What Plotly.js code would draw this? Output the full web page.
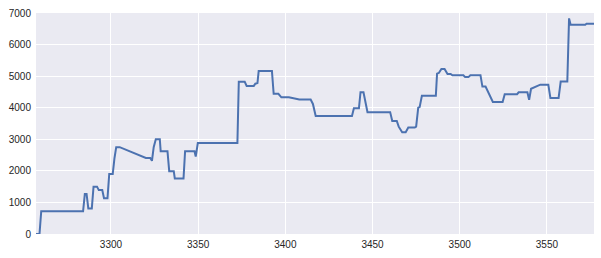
<!DOCTYPE html>
<html>
<head>
<meta charset="utf-8">
<script src="https://cdn.plot.ly/plotly-3.0.1.min.js"></script>
<style>html,body{margin:0;padding:0;background:#fff;}#chart{width:601px;height:258px;}</style>
</head>
<body>
<div id="chart"></div>
<script>
const xValues = [3257,3259,3260,3284,3285,3286,3287,3289,3290,3292,3293,3295,3296,3298,3299,3301,3302,3303,3305,3320,3322.5,3323.5,3324.5,3325.7,3328,3328.5,3332.4,3333.4,3336,3336.6,3341.6,3342.5,3347.9,3348.6,3349.8,3372.5,3373.3,3376.7,3377.8,3381.9,3382.8,3384,3384.7,3392.3,3393.3,3396,3397.7,3402,3408,3414.5,3415.8,3417.4,3438.2,3439.3,3442.2,3443.1,3444.8,3447.1,3460.1,3461.3,3463.9,3465,3467,3469,3470.5,3474.2,3475,3476.2,3477,3478.3,3486.3,3487,3488,3489.5,3491.3,3493,3494.8,3495.8,3502.1,3503.1,3505,3506.1,3511.9,3513,3514.8,3519,3524.6,3525.8,3532.9,3533.8,3538.8,3539.8,3540.9,3546.2,3550.8,3552,3556.7,3557.9,3561.7,3562.7,3563.6,3572,3572.7,3577];
const yValues = [0,0,720,720,1270,1270,810,810,1500,1500,1390,1390,1130,1130,1900,1900,2400,2750,2750,2410,2410,2320,2750,3000,3000,2620,2620,1990,1990,1760,1760,2620,2620,2450,2880,2880,4820,4820,4690,4690,4760,4780,5160,5160,4440,4440,4330,4330,4260,4260,4120,3740,3740,3980,3980,4490,4490,3860,3860,3580,3580,3400,3220,3220,3370,3370,3400,4000,4020,4380,4380,5080,5100,5230,5230,5070,5070,5030,5030,4970,4970,5030,5030,4670,4670,4180,4180,4430,4430,4490,4490,4250,4600,4730,4730,4310,4310,4830,4830,6830,6630,6630,6660,6660];

const trace = {
  x: xValues, y: yValues, type: 'scatter', mode: 'lines',
  line: {color: '#4C72B0', width: 2}, hoverinfo: 'skip'
};
const layout = {
  width: 601, height: 258,
  margin: {l: 36, r: 7, t: 13, b: 24, pad: 0},
  paper_bgcolor: '#ffffff', plot_bgcolor: '#EAEAF2',
  showlegend: false,
  font: {family: 'Liberation Sans, Arial, sans-serif', size: 10, color: '#262626'},
  xaxis: {
    range: [3257, 3577], tickvals: [3300,3350,3400,3450,3500,3550],
    ticktext: ['3300','3350','3400','3450','3500','3550'],
    showgrid: true, gridcolor: '#ffffff', gridwidth: 1, zeroline: false,
    showline: false, ticks: '', ticklabelstandoff: 3
  },
  yaxis: {
    range: [0, 7000], tickvals: [0,1000,2000,3000,4000,5000,6000,7000],
    ticktext: ['0','1000','2000','3000','4000','5000','6000','7000'],
    showgrid: true, gridcolor: '#ffffff', gridwidth: 1, zeroline: false,
    showline: false, ticks: '', ticklabelstandoff: 4
  }
};
Plotly.newPlot('chart', [trace], layout, {displayModeBar: false, staticPlot: true});
</script>
</body>
</html>
